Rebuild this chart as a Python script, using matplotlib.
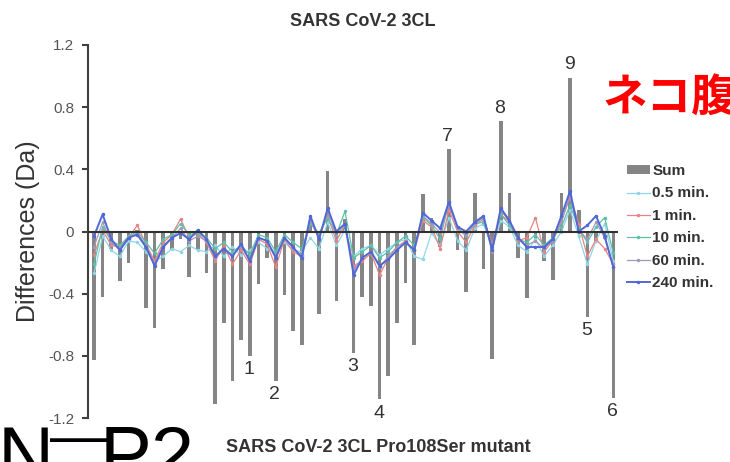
import numpy as np
import matplotlib
matplotlib.use('Agg')
import matplotlib.pyplot as plt

plt.rcParams['font.family'] = ['Liberation Sans', 'DejaVu Sans']

# Sum of differences per peptide (Da)
sum_vals = [-0.83, -0.42, -0.11, -0.32, -0.20, 0.01, -0.49, -0.62, -0.24, -0.12,
            -0.05, -0.29, -0.11, -0.27, -1.11, -0.59, -0.96, -0.70, -0.80, -0.34,
            -0.17, -0.96, -0.41, -0.64, -0.73, 0.04, -0.53, 0.39, -0.45, 0.08,
            -0.78, -0.42, -0.48, -1.08, -0.93, -0.59, -0.33, -0.73, 0.24, 0.09,
            -0.10, 0.53, -0.12, -0.39, 0.25, -0.24, -0.82, 0.71, 0.25, -0.17,
            -0.43, -0.05, -0.19, -0.31, 0.25, 0.99, 0.14, -0.55, -0.06, -0.05, -1.07]

# time points
t05 = [-0.27, -0.03, -0.12, -0.16, -0.06, -0.07, -0.13, -0.19, -0.16, -0.11,
       -0.13, -0.09, -0.12, -0.13, -0.09, -0.16, -0.10, -0.15, -0.12, -0.07,
       -0.11, -0.13, -0.07, -0.12, -0.13, -0.04, -0.11, 0.06, -0.09, 0.01,
       -0.16, -0.11, -0.09, -0.15, -0.11, -0.07, -0.05, -0.16, -0.18, -0.01,
       -0.09, 0.09, -0.06, -0.12, 0.02, 0.05, -0.11, 0.07, 0.03, -0.09,
       -0.13, -0.05, -0.16, -0.09, 0.00, 0.14, -0.03, -0.21, -0.06, 0.05, -0.19]
t1 = [-0.15, 0.01, -0.09, -0.10, -0.04, 0.04, -0.08, -0.19, -0.07, -0.02,
      0.08, -0.04, -0.01, -0.07, -0.19, -0.09, -0.21, -0.12, -0.21, -0.05,
      -0.08, -0.23, -0.05, -0.13, -0.16, 0.06, -0.03, 0.10, -0.06, 0.04,
      -0.22, -0.19, -0.14, -0.28, -0.17, -0.10, -0.06, -0.12, 0.07, 0.03,
      -0.11, 0.14, 0.00, -0.07, 0.04, 0.08, -0.08, 0.11, 0.06, -0.06,
      -0.04, 0.09, -0.13, -0.06, 0.06, 0.23, 0.05, -0.16, -0.05, -0.11, -0.21]
t10 = [-0.21, 0.03, -0.06, -0.09, -0.03, 0.00, -0.07, -0.14, -0.05, -0.02,
       0.05, -0.02, -0.01, -0.04, -0.11, -0.07, -0.13, -0.09, -0.15, -0.02,
       -0.04, -0.13, -0.02, -0.07, -0.11, 0.05, -0.01, 0.09, -0.02, 0.13,
       -0.17, -0.13, -0.09, -0.17, -0.13, -0.07, -0.03, -0.09, 0.09, 0.04,
       -0.05, 0.19, 0.02, -0.03, 0.05, 0.06, -0.10, 0.11, 0.04, -0.05,
       -0.07, -0.02, -0.09, -0.04, 0.03, 0.17, 0.02, -0.07, 0.03, 0.09, -0.14]
t60 = [-0.10, 0.06, -0.07, -0.12, -0.04, -0.01, -0.09, -0.21, -0.09, -0.04,
       0.02, -0.06, -0.03, -0.06, -0.17, -0.11, -0.15, -0.10, -0.18, -0.04,
       -0.06, -0.16, -0.04, -0.11, -0.15, 0.07, -0.04, 0.13, -0.02, 0.04,
       -0.25, -0.17, -0.13, -0.23, -0.16, -0.10, -0.07, -0.12, 0.10, 0.05,
       -0.01, 0.17, 0.02, -0.02, 0.05, 0.09, -0.13, 0.14, 0.06, -0.05,
       -0.09, -0.06, -0.11, -0.06, 0.07, 0.22, 0.01, -0.05, 0.06, -0.04, -0.23]
t240 = [-0.03, 0.11, -0.05, -0.12, -0.04, -0.02, -0.10, -0.22, -0.10, -0.04,
        -0.01, -0.05, 0.01, -0.05, -0.16, -0.11, -0.16, -0.08, -0.19, -0.04,
        -0.06, -0.17, -0.04, -0.10, -0.17, 0.10, -0.05, 0.15, 0.00, 0.05,
        -0.28, -0.17, -0.13, -0.22, -0.18, -0.12, -0.07, -0.12, 0.12, 0.07,
        0.02, 0.19, 0.03, 0.00, 0.06, 0.10, -0.12, 0.15, 0.07, -0.04,
        -0.10, -0.10, -0.10, -0.05, 0.10, 0.26, 0.00, 0.04, 0.10, -0.03, -0.23]

series_names = ['0.5 min.', '1 min.', '10 min.', '60 min.', '240 min.']
series_vals = [t05, t1, t10, t60, t240]
series_colors = ['#8fd6ea', '#e58585', '#5fc0a8', '#a598b8', '#5068d6']

# numbered peptides: (bar index, label)
marked = [(18, '1'), (21, '2'), (30, '3'), (33, '4'), (57, '5'), (60, '6'),
          (41, '7'), (47, '8'), (55, '9')]

idx = np.arange(len(sum_vals))

fig = plt.figure(figsize=(7.3, 4.62), dpi=100)
ax = fig.add_axes([88 / 730, 44 / 462, 530 / 730, 373 / 462])

bars = ax.bar(idx, sum_vals, width=0.42, color='#858585', label='Sum', zorder=2)
handles = [bars]
for name, vals, col in zip(series_names, series_vals, series_colors):
    lw = 1.4 if name == '240 min.' else 0.9
    ln, = ax.plot(idx, vals, color=col, lw=lw, marker='o', ms=1.5, label=name, zorder=3)
    handles.append(ln)

ax.axhline(0, color='#303030', lw=1.5, zorder=4)

for i, lab in marked:
    v = sum_vals[i]
    off = 13 if v > 0 else -14
    ax.annotate(lab, (i, v), xytext=(-1, off), textcoords='offset pixels',
                ha='center', va='center', fontsize=14, color='#333333')

ax.set_xlim(-0.69, 60.54)
ax.set_ylim(-1.2, 1.2)
ax.set_yticks([1.2, 0.8, 0.4, 0, -0.4, -0.8, -1.2])
ax.set_yticklabels(['1.2', '0.8', '0.4', '0', '-0.4', '-0.8', '-1.2'])
ax.set_xticks([])
for s in ['top', 'right', 'bottom']:
    ax.spines[s].set_visible(False)
ax.spines['left'].set_color('#404040')
ax.spines['left'].set_linewidth(1.5)
ax.tick_params(axis='y', direction='out', length=4, width=1.5, color='#404040',
               labelcolor='#555555', labelsize=11, pad=6)
ax.set_ylabel('Differences (Da)', fontsize=18, color='#333333', labelpad=6)

ax.legend(handles=handles, loc='upper left', bbox_to_anchor=(627 / 730, 1 - 164 / 462),
          bbox_transform=fig.transFigure, frameon=False, borderpad=0,
          borderaxespad=0, handlelength=1.5, handletextpad=0.15,
          labelspacing=0.55, handleheight=0.45,
          prop={'weight': 'bold', 'size': 11}, labelcolor='#333333')

fig.text(363 / 730, 1 - 22 / 462, 'SARS CoV-2 3CL', ha='center', va='center',
         fontsize=13, fontweight='bold', color='#333333')
fig.text(378 / 730, 1 - 447 / 462, 'SARS CoV-2 3CL Pro108Ser mutant', ha='center',
         va='center', fontsize=13, fontweight='bold', color='#333333')

fig.text(603 / 730, 1 - 99 / 462, 'ネコ腹', ha='left', va='center', fontsize=32,
         fontweight='bold', color='#ff0000', family=['Noto Sans CJK JP', 'DejaVu Sans'])

# big cut-off caption at the bottom left
fig.text(-2 / 730, 1 - 481 / 462, 'N', ha='left', va='baseline', fontsize=56, color='black')
fig.text(50 / 730, 1 - 440 / 462, '\u2014', ha='left', va='center', fontsize=42, color='black')
fig.text(100 / 730, 1 - 481 / 462, 'P2', ha='left', va='baseline', fontsize=56, color='black')

fig.savefig('out.png', dpi=100)
